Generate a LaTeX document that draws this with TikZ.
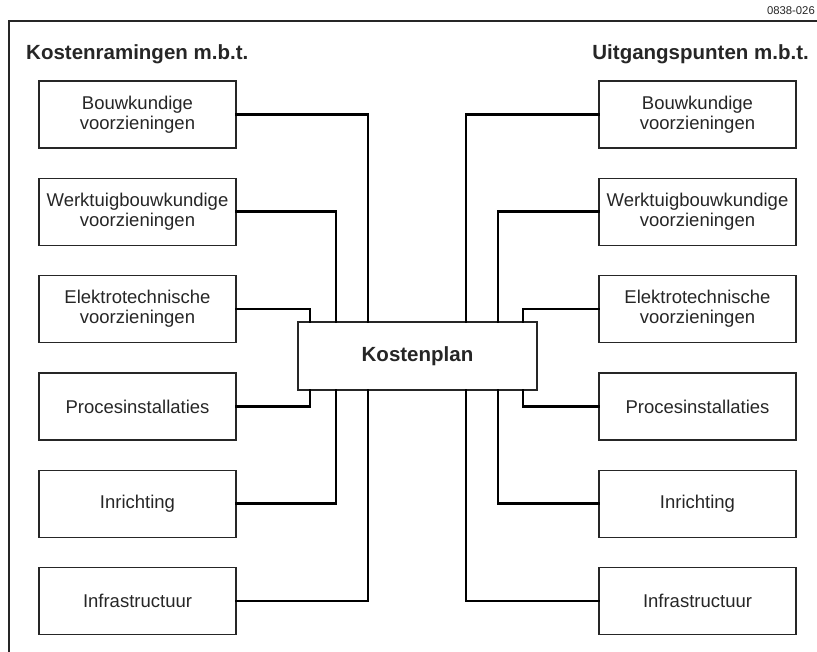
\documentclass[tikz,border=0pt]{standalone}
\usepackage{fontspec}
\setmainfont{Liberation Sans}
\usetikzlibrary{positioning}

\definecolor{inkgray}{HTML}{262626}

\begin{document}
\begin{tikzpicture}[x=1pt, y=-1pt,
  box/.style={draw=inkgray, line width=1.3pt, minimum width=197pt, minimum height=67pt,
    inner sep=0pt, align=center, text=inkgray, font=\fontsize{18.5}{20}\selectfont},
  planbox/.style={box, minimum width=239pt, minimum height=68pt,
    font=\fontsize{20.5}{22}\selectfont\bfseries},
  head/.style={inner sep=0pt, text=inkgray, font=\fontsize{20.5}{22}\selectfont\bfseries},
  link/.style={line width=2.8pt, line cap=rect},
  frame/.style={draw=inkgray, line width=1.3pt}]
\useasboundingbox (0,0) rectangle (817,652);

% frame and headings
\draw[frame] (9,653) -- (9,21) -- (818,21);
\node[inner sep=0pt, anchor=base east, text=inkgray, font=\fontsize{11.3}{12}\selectfont] (tag) at (815,15) {0838-026};
\node[head, anchor=base west] (hl) at (26,60) {Kostenramingen m.b.t.};
\node[head, anchor=base east] (hr) at (809,60) {Uitgangspunten m.b.t.};

% centre
\node[planbox] (plan) at (417.5,356) {Kostenplan};

% left column
\node[box] (kl1) at (137.5,114.5) {Bouwkundige\\voorzieningen};
\node[box, below=29pt of kl1] (kl2) {Werktuigbouwkundige\\voorzieningen};
\node[box, below=29pt of kl2] (kl3) {Elektrotechnische\\voorzieningen};
\node[box, below=29pt of kl3] (kl4) {Procesinstallaties};
\node[box, below=29pt of kl4] (kl5) {Inrichting};
\node[box, below=29pt of kl5] (kl6) {Infrastructuur};

% right column
\node[box] (ur1) at (697.5,114.5) {Bouwkundige\\voorzieningen};
\node[box, below=29pt of ur1] (ur2) {Werktuigbouwkundige\\voorzieningen};
\node[box, below=29pt of ur2] (ur3) {Elektrotechnische\\voorzieningen};
\node[box, below=29pt of ur3] (ur4) {Procesinstallaties};
\node[box, below=29pt of ur4] (ur5) {Inrichting};
\node[box, below=29pt of ur5] (ur6) {Infrastructuur};

% entry points on the plan
\coordinate (pt1) at ([xshift=-49.5pt]plan.north); \coordinate (pt2) at ([xshift=-81.5pt]plan.north);
\coordinate (pt3) at ([xshift=-107.5pt]plan.north);
\coordinate (pb1) at ([xshift=-49.5pt]plan.south); \coordinate (pb2) at ([xshift=-81.5pt]plan.south);
\coordinate (pb3) at ([xshift=-107.5pt]plan.south);
\coordinate (qt1) at ([xshift=48.5pt]plan.north); \coordinate (qt2) at ([xshift=80.5pt]plan.north);
\coordinate (qt3) at ([xshift=105.5pt]plan.north);
\coordinate (qb1) at ([xshift=48.5pt]plan.south); \coordinate (qb2) at ([xshift=80.5pt]plan.south);
\coordinate (qb3) at ([xshift=105.5pt]plan.south);

\draw[link] (kl1.east) -| (pt1); \draw[link] (kl2.east) -| (pt2); \draw[link] (kl3.east) -| (pt3);
\draw[link] (kl4.east) -| (pb3); \draw[link] (kl5.east) -| (pb2); \draw[link] (kl6.east) -| (pb1);
\draw[link] (ur1.west) -| (qt1); \draw[link] (ur2.west) -| (qt2); \draw[link] (ur3.west) -| (qt3);
\draw[link] (ur4.west) -| (qb3); \draw[link] (ur5.west) -| (qb2); \draw[link] (ur6.west) -| (qb1);

\end{tikzpicture}
\end{document}
